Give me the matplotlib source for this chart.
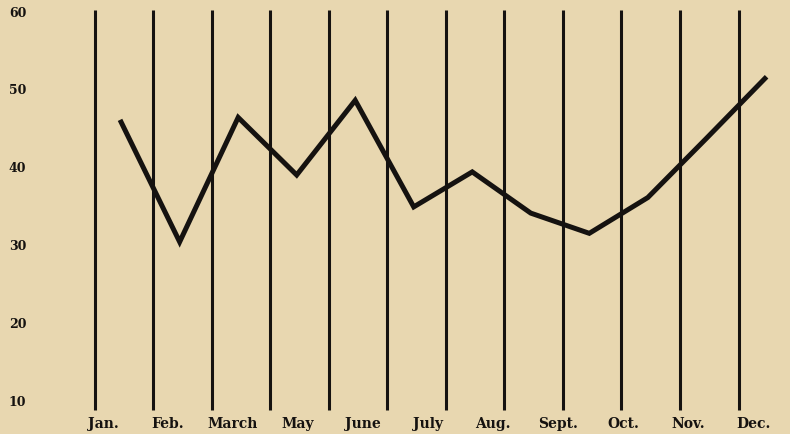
import matplotlib.pyplot as plt
import numpy as np

# monthly values (one point per column)
values = [46.0, 30.6, 46.6, 39.2, 48.8, 35.1, 39.6, 34.3, 31.7, 36.3, 43.9, 51.6]
month_labels = ["Jan.", "Feb.", "March", "May", "June", "July", "Aug.",
                "Sept.", "Oct.", "Nov.", "Dec."]
y_ticks = [60, 50, 40, 30, 20, 10]

paper = "#e8d7b0"
ink = "#151210"

fig = plt.figure(figsize=(7.9, 4.34), dpi=100, facecolor=paper)
ax = fig.add_axes([0, 0, 1, 1])
ax.set_facecolor(paper)
ax.set_xlim(-1.62, 11.88)
ax.set_ylim(5.9, 61.7)
ax.axis("off")

# vertical column rules
n = len(values)
for i in range(n):
    ax.plot([i, i], [9.0, 60.4], color=ink, linewidth=2.2, solid_capstyle="butt")

# data line, points sit inside each column
x = np.arange(n) + 0.45
ax.plot(x, values, color=ink, linewidth=3.6, solid_joinstyle="miter")

# y labels
for v in y_ticks:
    ax.text(-1.32, v, str(v), ha="center", va="center", fontsize=9,
            fontweight="bold", family="DejaVu Serif", color=ink)

# month labels (April is missing in the original)
label_x = np.linspace(0.14, 11.25, len(month_labels))
for lx, lab in zip(label_x, month_labels):
    ax.text(lx, 7.2, lab, ha="center", va="center", fontsize=10,
            fontweight="bold", family="DejaVu Serif", color=ink)

plt.savefig("out.png", dpi=100, facecolor=paper)
